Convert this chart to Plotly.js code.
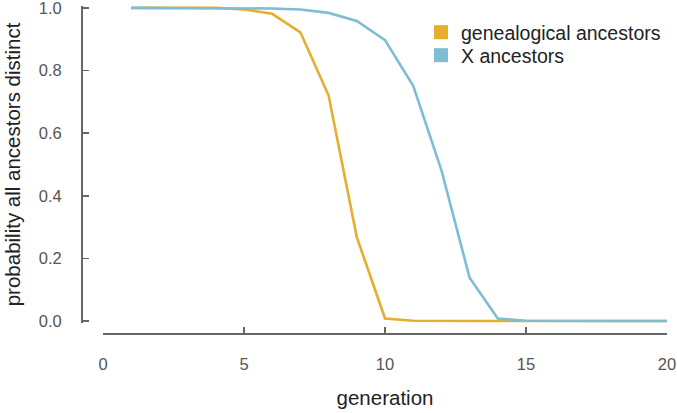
<!DOCTYPE html>
<html>
<head>
<meta charset="utf-8">
<script src="https://cdn.plot.ly/plotly-3.0.1.min.js"></script>
<style>html,body{margin:0;padding:0;background:#fff;}#chart{width:677px;height:413px;}</style>
</head>
<body>
<div id="chart"></div>
<script>
const generation = [1,2,3,4,5,6,7,8,9,10,11,12,13,14,15,16,17,18,19,20];
const genealogical = [1,1,1,1,0.995,0.981,0.922,0.72,0.268,0.008,0.001,0,0,0,0,0,0,0,0,0];
const xAncestors = [1,1,1,1,0.999,0.998,0.995,0.984,0.958,0.897,0.751,0.482,0.138,0.008,0.001,0,0,0,0,0];
const seriesNames = ['genealogical ancestors', 'X ancestors'];
const colors = ['#E6AE2D', '#7EBDD3'];
const xTicks = [0,5,10,15,20];
const yTicks = [0,0.2,0.4,0.6,0.8,1.0];
const yTickText = ['0.0','0.2','0.4','0.6','0.8','1.0'];

const font = 'Liberation Sans, Arial, Helvetica, sans-serif';
const W = 677, H = 413;
const ml = 81, mr = 10, mt = 6, mb = 80;
const pw = W - ml - mr, ph = H - mt - mb;
const yPad = 0.006;
const yBottomPx = 321 + yPad*313;
const xLeftPx = 103;

const traces = [
  {x: generation, y: genealogical, mode: 'lines', line: {color: colors[0], width: 2.6}, showlegend: false, hoverinfo: 'skip'},
  {x: generation, y: xAncestors, mode: 'lines', line: {color: colors[1], width: 2.6}, showlegend: false, hoverinfo: 'skip'},
  {x: [null], y: [null], mode: 'markers', name: seriesNames[0], legend: 'legend', marker: {symbol: 'square', size: 14, color: colors[0]}},
  {x: [null], y: [null], mode: 'markers', name: seriesNames[1], legend: 'legend2', marker: {symbol: 'square', size: 14, color: colors[1]}}
];

function legendAt(topPx) {
  return {x: (421 - ml)/pw, y: (H - mb - topPx)/ph, xanchor: 'left', yanchor: 'top',
          font: {family: font, size: 19.5, color: '#222'}, bgcolor: 'rgba(0,0,0,0)'};
}

const layout = {
  width: W, height: H,
  margin: {l: ml, r: mr, t: mt, b: mb},
  paper_bgcolor: '#fff', plot_bgcolor: '#fff',
  font: {family: font, color: '#222'},
  showlegend: true,
  legend: legendAt(13),
  legend2: legendAt(36),
  xaxis: {
    range: [0, 20], domain: [(xLeftPx - ml)/pw, 1], anchor: 'free', position: 0,
    tickvals: xTicks, ticktext: xTicks.map(String),
    showgrid: false, zeroline: false, showline: true, linecolor: '#666', linewidth: 1.5,
    ticks: 'inside', ticklen: 6, tickwidth: 1.5, tickcolor: '#666',
    ticklabelstandoff: 16, ticklabeloverflow: 'allow',
    tickfont: {family: font, size: 16.5, color: '#555'},
    title: {text: 'generation', font: {family: font, size: 20.5, color: '#222'}, standoff: 18}
  },
  yaxis: {
    range: [-yPad, 1 + yPad], domain: [(H - mb - yBottomPx)/ph, 1], anchor: 'free', position: 0,
    tickvals: yTicks, ticktext: yTickText,
    showgrid: false, zeroline: false, showline: true, linecolor: '#666', linewidth: 1.5,
    ticks: 'inside', ticklen: 6, tickwidth: 1.5, tickcolor: '#666',
    ticklabelstandoff: 16, ticklabeloverflow: 'allow',
    tickfont: {family: font, size: 16.5, color: '#555'},
    title: {text: 'probability all ancestors distinct', font: {family: font, size: 20.5, color: '#222'}, standoff: 11}
  }
};

Plotly.newPlot('chart', traces, layout, {displayModeBar: false, staticPlot: true});
</script>
</body>
</html>
